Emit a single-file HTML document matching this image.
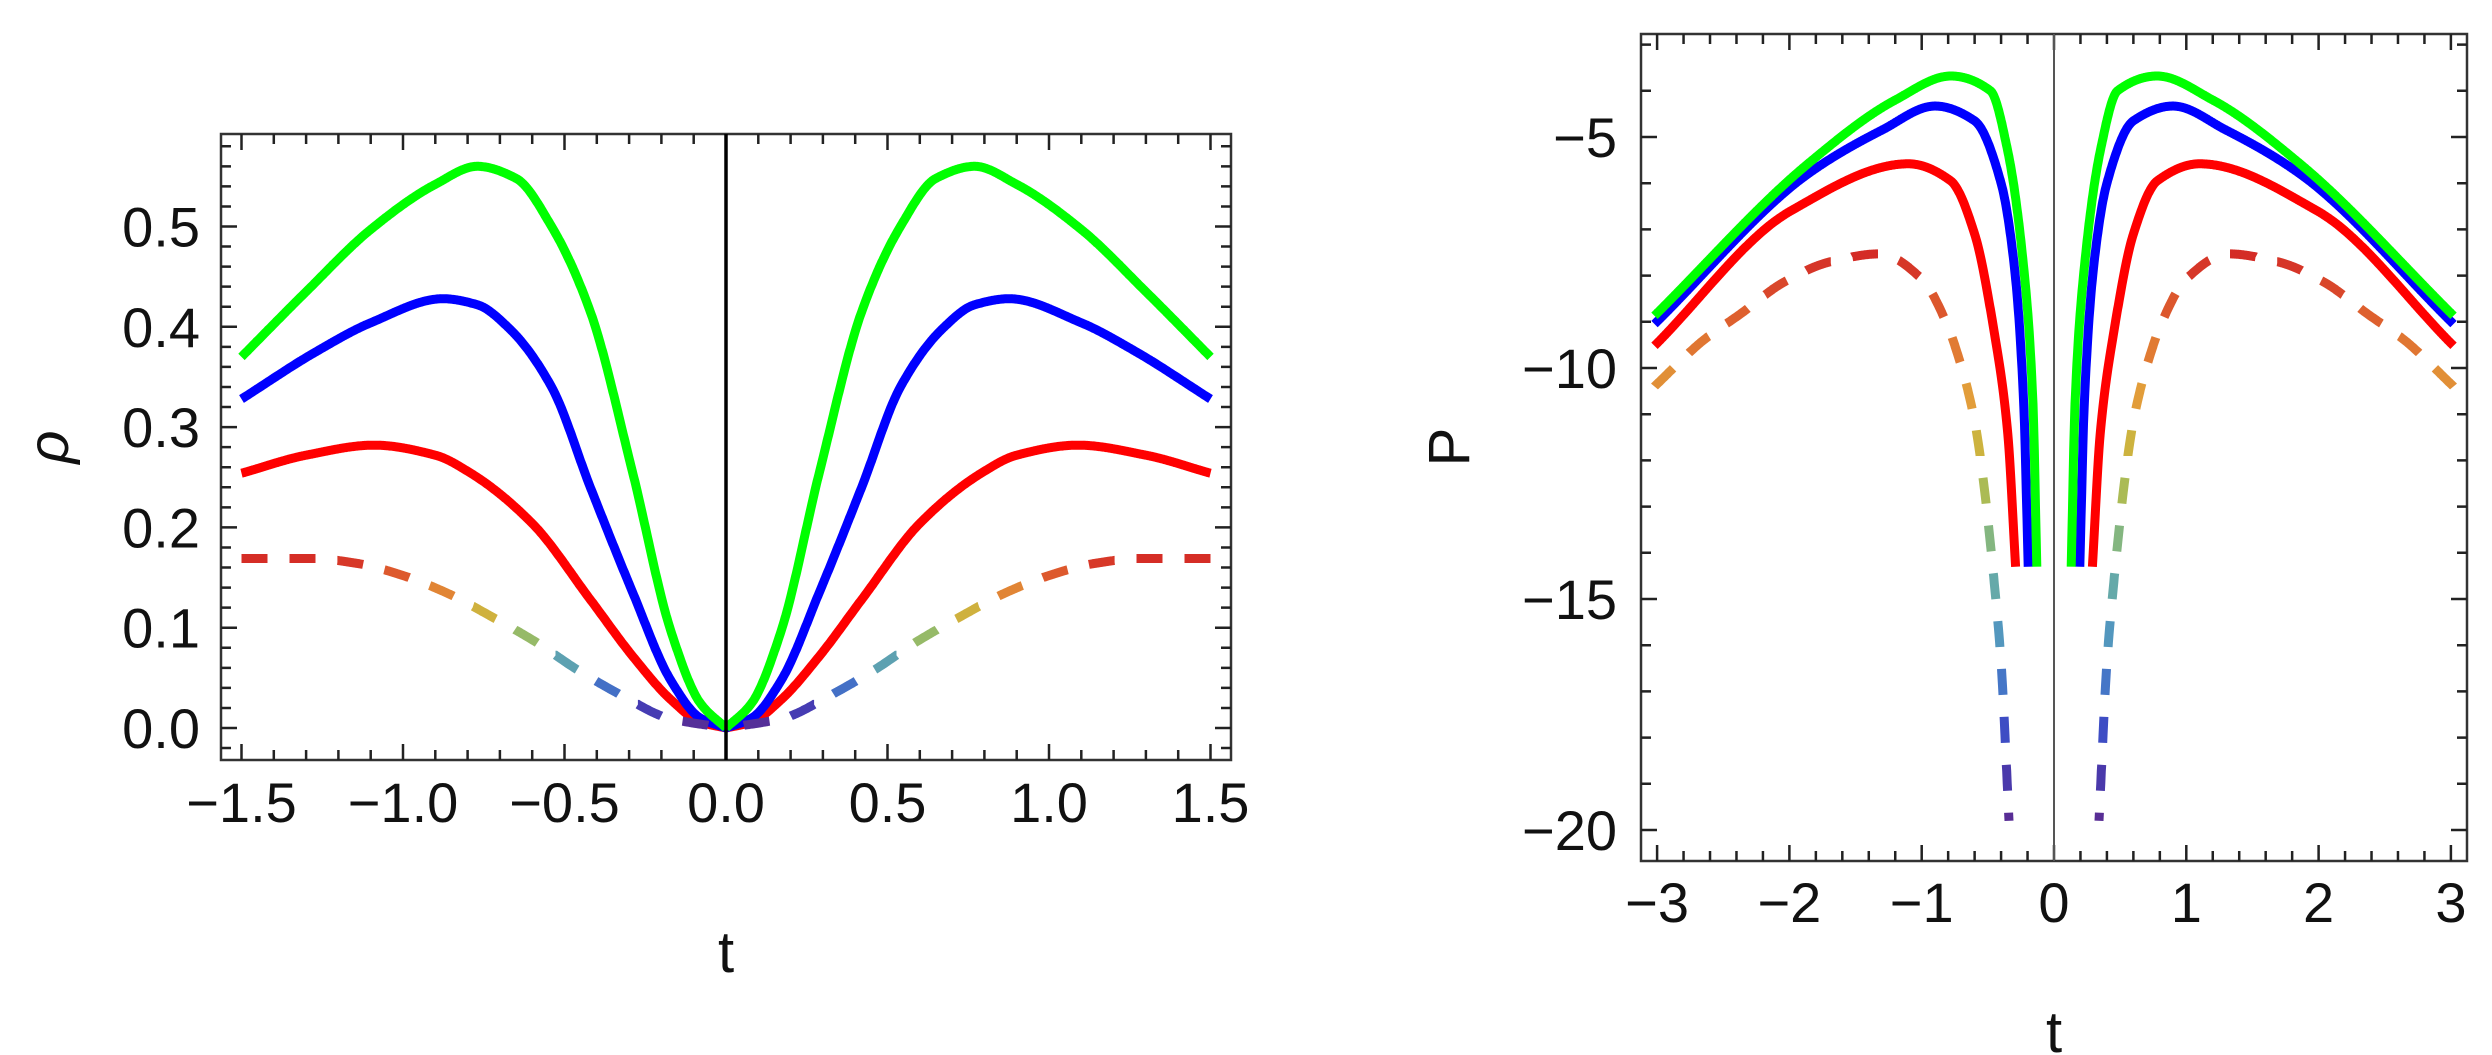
<!DOCTYPE html>
<html><head><meta charset="utf-8"><style>
html,body{margin:0;padding:0;background:#fff;}
svg{display:block;font-family:"Liberation Sans",Arial,sans-serif;}
</style></head><body>
<svg id="svg" width="2492" height="1055" viewBox="0 0 2492 1055" xmlns="http://www.w3.org/2000/svg">
<g id="left"></g>
<g id="right"></g>
</svg>
<script>
// ---- Left chart data (rho vs t), left half; mirrored for t>0
const rhoT_green = [-1.5,-1.3,-1.1,-0.9,-0.77,-0.65,-0.54,-0.42,-0.29,-0.17,-0.08,0];
const rhoGreen   = [0.37,0.435,0.497,0.542,0.56,0.548,0.50,0.415,0.256,0.096,0.025,0];
const rhoT_blue  = [-1.5,-1.27,-1.1,-0.876,-0.77,-0.67,-0.54,-0.42,-0.29,-0.17,-0.08,0];
const rhoBlue    = [0.328,0.375,0.404,0.428,0.422,0.398,0.34,0.24,0.136,0.047,0.01,0];
const rhoT_red   = [-1.5,-1.3,-1.09,-0.9,-0.79,-0.6,-0.42,-0.29,-0.17,-0.08,0];
const rhoRed     = [0.254,0.272,0.282,0.272,0.254,0.204,0.128,0.072,0.028,0.006,0];
const rhoT_dash  = [-1.5,-1.28,-1.14,-1.0,-0.86,-0.72,-0.59,-0.46,-0.32,-0.18,0];
const rhoDash    = [0.169,0.169,0.164,0.152,0.134,0.11,0.086,0.058,0.032,0.01,0];
const rhoXTicks  = [-1.5,-1.0,-0.5,0.0,0.5,1.0,1.5];
const rhoXLabels = ["−1.5","−1.0","−0.5","0.0","0.5","1.0","1.5"];
const rhoYTicks  = [0,0.1,0.2,0.3,0.4,0.5];
const rhoYLabels = ["0.0","0.1","0.2","0.3","0.4","0.5"];

// ---- Right chart data (P vs t), left half; mirrored for t>0
const pT_green = [-3.02,-1.86,-1.2,-0.78,-0.48,-0.35,-0.23,-0.16,-0.13];
const pGreen   = [-8.87,-5.58,-4.2,-3.68,-4.0,-5.3,-7.8,-10.7,-14.3];
const pT_blue  = [-3.02,-1.86,-1.3,-0.9,-0.6,-0.4,-0.3,-0.23,-0.195];
const pBlue    = [-9.05,-5.8,-4.85,-4.33,-4.65,-6.0,-7.8,-10.7,-14.3];
const pT_red   = [-3.02,-1.99,-1.1,-0.78,-0.6,-0.45,-0.35,-0.29];
const pRed     = [-9.52,-6.6,-5.58,-5.95,-7.1,-9.26,-11.4,-14.3];
const pT_dash  = [-3.02,-2.65,-2.37,-2.04,-1.69,-1.32,-1.0,-0.82,-0.69,-0.6,-0.55,-0.46,-0.395,-0.36,-0.34];
const pDash    = [-10.4,-9.4,-8.83,-8.14,-7.7,-7.53,-8.07,-8.98,-10.07,-11.15,-12.08,-14.4,-16.6,-18.6,-19.8];
const pXTicks  = [-3,-2,-1,0,1,2,3];
const pXLabels = ["−3","−2","−1","0","1","2","3"];
const pYTicks  = [-20,-15,-10,-5];
const pYLabels = ["−20","−15","−10","−5"];

const NS="http://www.w3.org/2000/svg";
function mk(tag, parent, attrs){const e=document.createElementNS(NS,tag);for(const k in attrs)e.setAttribute(k,attrs[k]);parent.appendChild(e);return e;}

const xL=t=>726+t*323, yL=r=>728-r*1003;
const xR=t=>2054+t*132.3, yR=p=>137-(p+5)*46.2;

const palette=[[0,[91,42,143]],[0.15,[60,69,196]],[0.3,[74,142,200]],[0.45,[108,176,160]],[0.55,[156,188,96]],[0.65,[200,184,64]],[0.75,[226,157,58]],[0.87,[224,106,48]],[1,[212,42,38]]];
function col(u){u=Math.max(0,Math.min(1,u));for(let i=1;i<palette.length;i++){if(u<=palette[i][0]){const a=palette[i-1],b=palette[i];const f=(u-a[0])/(b[0]-a[0]);const c=a[1].map((v,j)=>Math.round(v+(b[1][j]-v)*f));return `rgb(${c[0]},${c[1]},${c[2]})`;}}return 'rgb(212,42,38)';}

// monotone cubic (Fritsch-Carlson) in data space
function monotone(xs,ys,n){
  const m=xs.length,d=[],s=[];
  for(let i=0;i<m-1;i++)d.push((ys[i+1]-ys[i])/(xs[i+1]-xs[i]));
  s[0]=d[0];s[m-1]=d[m-2];
  for(let i=1;i<m-1;i++){if(d[i-1]*d[i]<=0)s[i]=0;else{const h0=xs[i]-xs[i-1],h1=xs[i+1]-xs[i];const w1=2*h1+h0,w2=h1+2*h0;s[i]=(w1+w2)/(w1/d[i-1]+w2/d[i]);}}
  const out=[];
  for(let k=0;k<=n;k++){
    const x=xs[0]+(xs[m-1]-xs[0])*k/n;
    let i=0;while(i<m-2&&x>xs[i+1])i++;
    const h=xs[i+1]-xs[i],t=(x-xs[i])/h,t2=t*t,t3=t2*t;
    const y=(2*t3-3*t2+1)*ys[i]+(t3-2*t2+t)*h*s[i]+(-2*t3+3*t2)*ys[i+1]+(t3-t2)*h*s[i+1];
    out.push([x,y]);
  }
  return out;
}
function curve(ts,vs,fx,fy,mirror){return monotone(ts,vs,600).map(q=>[fx(mirror?-q[0]:q[0]),fy(q[1]),q[1]]);}

function solid(g,ts,vs,fx,fy,color,name){
  [false,true].forEach(m=>{
    const s=curve(ts,vs,fx,fy,m);
    const p=mk('path',g,{d:'M'+s.map(q=>q[0].toFixed(1)+','+q[1].toFixed(1)).join('L'),fill:'none',stroke:color,'stroke-width':9,'stroke-linejoin':'round'});
    
    
  });
}
function dashed(g,ts,vs,fx,fy,ufn,name){
  [false,true].forEach(m=>{
    const s=curve(ts,vs,fx,fy,m);
    const on=26,off=22;let acc=0,state=true,cur=[s[0]];
    for(let i=1;i<s.length;i++){
      let a=s[i-1],b=s[i];let seg=Math.hypot(b[0]-a[0],b[1]-a[1]);
      while(acc+seg>=(state?on:off)){
        const need=(state?on:off)-acc;const f=seg>0?need/seg:0;
        const mid=[a[0]+(b[0]-a[0])*f,a[1]+(b[1]-a[1])*f,a[2]+(b[2]-a[2])*f];
        if(state){cur.push(mid);emit(cur);}
        cur=[mid];state=!state;acc=0;a=mid;seg=Math.hypot(b[0]-a[0],b[1]-a[1]);
      }
      acc+=seg;cur.push(b);
    }
    if(state&&cur.length>1)emit(cur);
  });
  function emit(c){const mv=c[Math.floor(c.length/2)][2];
    const p=mk('polyline',g,{points:c.map(q=>q[0].toFixed(1)+','+q[1].toFixed(1)).join(' '),fill:'none',stroke:col(ufn(mv)),'stroke-width':9});
    
    }
}

function frame(g,x0,y0,x1,y1,xt,xminor,yt,yminor,fx,fy,xlab,ylab,axisW,axisC,lxY,lyX,fs){
  const r=mk('rect',g,{x:x0,y:y0,width:x1-x0,height:y1-y0,fill:'none',stroke:'#333','stroke-width':2.5});
  
  
  let d='';
  xminor.forEach(v=>{const x=fx(v);if(x<x0||x>x1)return;const maj=xt.some(m=>Math.abs(m-v)<1e-6);const L=maj?16:10;d+=`M${x},${y1}v${-L}M${x},${y0}v${L}`;});
  yminor.forEach(v=>{const y=fy(v);if(y<y0||y>y1)return;const maj=yt.some(m=>Math.abs(m-v)<1e-6);const L=maj?16:10;d+=`M${x0},${y}h${L}M${x1},${y}h${-L}`;});
  const tk=mk('path',g,{d:d,stroke:'#222','stroke-width':2.5,fill:'none'});
  
  
  const ax=mk('line',g,{x1:fx(0),x2:fx(0),y1:y0,y2:y1,stroke:axisC,'stroke-width':axisW});
  
  
  xt.forEach((v,i)=>{const t=mk('text',g,{x:fx(v),y:lxY,'text-anchor':'middle','font-size':fs,fill:'#111'});t.textContent=xlab[i];
    
    });
  yt.forEach((v,i)=>{const t=mk('text',g,{x:lyX,y:fy(v)+20,'text-anchor':'end','font-size':fs,fill:'#111'});t.textContent=ylab[i];
    
    });
}
function range(a,b,s){const o=[];for(let v=a;v<=b+1e-9;v+=s)o.push(Math.round(v*1000)/1000);return o;}

const gl=document.getElementById('left');
solid(gl,rhoT_red,rhoRed,xL,yL,'#ff0000','rho-red-curve');
solid(gl,rhoT_blue,rhoBlue,xL,yL,'#0000ff','rho-blue-curve');
solid(gl,rhoT_green,rhoGreen,xL,yL,'#00ff00','rho-green-curve');
dashed(gl,rhoT_dash,rhoDash,xL,yL,v=>v/0.17,'rho-gradient');
frame(gl,221,134,1231,760,rhoXTicks,range(-1.5,1.5,0.1),rhoYTicks,range(-0.02,0.58,0.02),xL,yL,rhoXLabels,rhoYLabels,3.5,'#000',822,200,56);

const gr=document.getElementById('right');
solid(gr,pT_red,pRed,xR,yR,'#ff0000','p-red-curve');
solid(gr,pT_blue,pBlue,xR,yR,'#0000ff','p-blue-curve');
solid(gr,pT_green,pGreen,xR,yR,'#00ff00','p-green-curve');
dashed(gr,pT_dash,pDash,xR,yR,v=>(v+20)/12.5,'p-gradient');
frame(gr,1641,34,2467,861,pXTicks,range(-3,3,0.2),pYTicks,range(-20,-3,1),xR,yR,pXLabels,pYLabels,2,'#555',922,1617,56);

(function(){const s=document.getElementById('svg');
function lab(txt,x,y,rot,name,ital){const t=document.createElementNS(NS,'text');t.setAttribute('x',x);t.setAttribute('y',y);t.setAttribute('text-anchor','middle');t.setAttribute('font-size','58');t.setAttribute('fill','#111');if(ital)t.setAttribute('font-style','italic');if(rot)t.setAttribute('transform',`rotate(-90 ${x} ${y})`);t.textContent=txt;


s.appendChild(t);}
lab('t',726,972,false,'x-axis-title-left');
lab('ρ',68,447,true,'y-axis-title-left',true);
lab('t',2054,1052,false,'x-axis-title-right');
lab('P',1469,447,true,'y-axis-title-right',false);
})();
</script>
</body></html>
